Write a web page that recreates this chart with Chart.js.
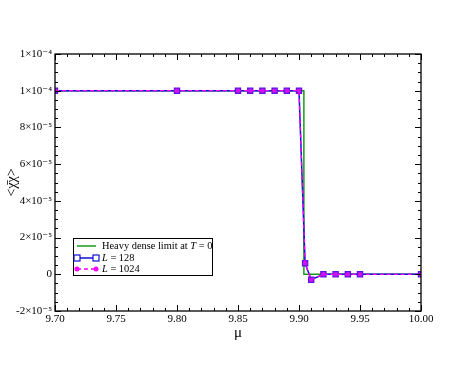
<!DOCTYPE html>
<html>
<head>
<meta charset="utf-8">
<script src="https://cdn.jsdelivr.net/npm/chart.js@4.4.1/dist/chart.umd.min.js"></script>
<style>
html,body{margin:0;padding:0;background:#fff;}
#wrap{width:474px;height:366px;}
</style>
</head>
<body>
<div id="wrap"><canvas id="c" width="474" height="366"></canvas></div>
<script>
// ---- data ----
const muL = [9.70, 9.80, 9.85, 9.86, 9.87, 9.88, 9.89, 9.90, 9.905, 9.91, 9.92, 9.93, 9.94, 9.95, 10.00];
const chiL128 = [1e-4, 1e-4, 1e-4, 1e-4, 1e-4, 1e-4, 1e-4, 1e-4, 6e-6, -3e-6, 0, 0, 0, 0, 0];
const chiL1024 = [1e-4, 1e-4, 1e-4, 1e-4, 1e-4, 1e-4, 1e-4, 1e-4, 6e-6, -3e-6, 0, 0, 0, 0, 0];
const muHeavy = [9.70, 9.904, 9.904, 10.00];
const chiHeavy = [1e-4, 1e-4, 0, 0];
const xTicks = [9.70, 9.75, 9.80, 9.85, 9.90, 9.95, 10.00];
const xTickLabels = ["9.70", "9.75", "9.80", "9.85", "9.90", "9.95", "10.00"];
const yTicks = [-2e-5, 0, 2e-5, 4e-5, 6e-5, 8e-5, 1e-4, 1.2e-4];
const yTickLabels = ["-2×10⁻⁵", "0", "2×10⁻⁵", "4×10⁻⁵", "6×10⁻⁵", "8×10⁻⁵", "1×10⁻⁴", "1×10⁻⁴"];
const legendLabels = ["Heavy dense limit at T = 0", "L = 128", "L = 1024"];

const pts = (xs, ys) => xs.map((x, i) => ({x: x, y: ys[i]}));
const SERIF = "'Liberation Serif', 'DejaVu Serif', serif";

const framePlugin = {
  id: 'frame',
  afterDatasetsDraw(chart) {
    const ctx = chart.ctx, a = chart.chartArea;
    const xs = chart.scales.x, ys = chart.scales.y;
    ctx.save();
    ctx.strokeStyle = '#000';
    ctx.lineWidth = 1.3;
    ctx.strokeRect(a.left, a.top, a.right - a.left, a.bottom - a.top);
    ctx.lineWidth = 1;
    // x ticks (major every 0.05, minor every 0.01)
    for (let i = 0; i <= 30; i++) {
      const v = 9.70 + i * 0.01;
      const p = Math.round(xs.getPixelForValue(v)) + 0.5;
      const len = (i % 5 === 0) ? 6 : 3;
      ctx.beginPath();
      ctx.moveTo(p, a.bottom); ctx.lineTo(p, a.bottom - len);
      ctx.moveTo(p, a.top); ctx.lineTo(p, a.top + len);
      ctx.stroke();
    }
    // y ticks (major every 2e-5, minor every 5e-6)
    for (let i = 0; i <= 28; i++) {
      const v = -2e-5 + i * 5e-6;
      const p = Math.round(ys.getPixelForValue(v)) + 0.5;
      const len = (i % 4 === 0) ? 6 : 3;
      ctx.beginPath();
      ctx.moveTo(a.left, p); ctx.lineTo(a.left + len, p);
      ctx.moveTo(a.right, p); ctx.lineTo(a.right - len, p);
      ctx.stroke();
    }
    // legend box
    const lx = a.left + 18, ly = a.bottom - 73, lw = 139, lh = 37;
    ctx.fillStyle = '#fff';
    ctx.fillRect(lx, ly, lw, lh);
    ctx.lineWidth = 1;
    ctx.strokeStyle = '#000';
    ctx.strokeRect(lx + 0.5, ly + 0.5, lw, lh);
    const rows = [ly + 8, ly + 20, ly + 31];
    const sx0 = lx + 4, sx1 = lx + 23, tx = lx + 29;
    // green
    ctx.strokeStyle = '#1a9a1a'; ctx.lineWidth = 1.5;
    ctx.beginPath(); ctx.moveTo(sx0, rows[0]); ctx.lineTo(sx1, rows[0]); ctx.stroke();
    // blue
    ctx.strokeStyle = '#1010d0';
    ctx.beginPath(); ctx.moveTo(sx0, rows[1]); ctx.lineTo(sx1, rows[1]); ctx.stroke();
    ctx.lineWidth = 1.2;
    [sx0, sx1].forEach(x => { ctx.fillStyle = '#fff'; ctx.fillRect(x - 3, rows[1] - 3, 6, 6); ctx.strokeRect(x - 3, rows[1] - 3, 6, 6); });
    // magenta dashed
    ctx.strokeStyle = '#ff00ff'; ctx.lineWidth = 1.5; ctx.setLineDash([4, 3]);
    ctx.beginPath(); ctx.moveTo(sx0, rows[2]); ctx.lineTo(sx1, rows[2]); ctx.stroke();
    ctx.setLineDash([]);
    ctx.fillStyle = '#ff00ff';
    [sx0, sx1].forEach(x => { ctx.beginPath(); ctx.arc(x, rows[2], 2.5, 0, Math.PI * 2); ctx.fill(); });
    // texts
    ctx.fillStyle = '#000';
    ctx.textBaseline = 'middle';
    const drawRich = (parts, x, y) => {
      parts.forEach(([t, it]) => {
        ctx.font = (it ? 'italic ' : '') + '10.4px ' + SERIF;
        ctx.fillText(t, x, y);
        x += ctx.measureText(t).width;
      });
    };
    drawRich([["Heavy dense limit at ", false], ["T", true], [" = 0", false]], tx, rows[0]);
    drawRich([["L", true], [" = 128", false]], tx, rows[1]);
    drawRich([["L", true], [" = 1024", false]], tx, rows[2]);
    ctx.restore();
  }
};

new Chart(document.getElementById('c'), {
  type: 'line',
  data: {
    datasets: [
      {
        label: legendLabels[0],
        data: pts(muHeavy, chiHeavy),
        borderColor: '#1a9a1a',
        borderWidth: 1.5,
        pointRadius: 0,
        tension: 0,
        order: 3
      },
      {
        label: legendLabels[1],
        data: pts(muL, chiL128),
        borderColor: '#1010d0',
        borderWidth: 1.5,
        pointStyle: 'rect',
        pointRadius: 3.7,
        pointBorderColor: '#6010e0',
        pointBackgroundColor: '#b020f0',
        pointBorderWidth: 1.2,
        tension: 0,
        order: 2
      },
      {
        label: legendLabels[2],
        data: pts(muL, chiL1024),
        borderColor: '#ff00ff',
        borderWidth: 1.3,
        borderDash: [4, 3],
        pointStyle: 'circle',
        pointRadius: 2,
        pointBorderWidth: 0,
        pointBackgroundColor: '#d010f0',
        tension: 0,
        order: 1
      }
    ]
  },
  options: {
    responsive: false,
    animation: false,
    layout: {padding: {top: 54, right: 53, left: 0, bottom: 24}},
    plugins: {legend: {display: false}, tooltip: {enabled: false}},
    scales: {
      x: {
        type: 'linear',
        min: 9.70, max: 10.00,
        afterBuildTicks: s => { s.ticks = xTicks.map(v => ({value: v})); },
        afterFit: s => { s.height = 31; },
        ticks: {
          callback: (v, i) => xTickLabels[i],
          color: '#000',
          font: {family: SERIF, size: 11},
          padding: 2,
          maxRotation: 0
        },
        grid: {display: false, drawTicks: false},
        border: {display: false},
        title: {display: true, text: 'μ', color: '#000', font: {family: SERIF, size: 15}, padding: {top: 0, bottom: 0}}
      },
      y: {
        type: 'linear',
        min: -2e-5, max: 1.2e-4,
        afterBuildTicks: s => { s.ticks = yTicks.map(v => ({value: v})); },
        afterFit: s => { s.width = 55; },
        ticks: {
          callback: (v, i) => yTickLabels[i],
          color: '#000',
          font: {family: SERIF, size: 11},
          padding: 3
        },
        grid: {display: false, drawTicks: false},
        border: {display: false},
        title: {display: true, text: '<χ̄χ>', color: '#000', font: {family: SERIF, size: 14}, padding: {bottom: 0}}
      }
    }
  },
  plugins: [framePlugin]
});
</script>
</body>
</html>
